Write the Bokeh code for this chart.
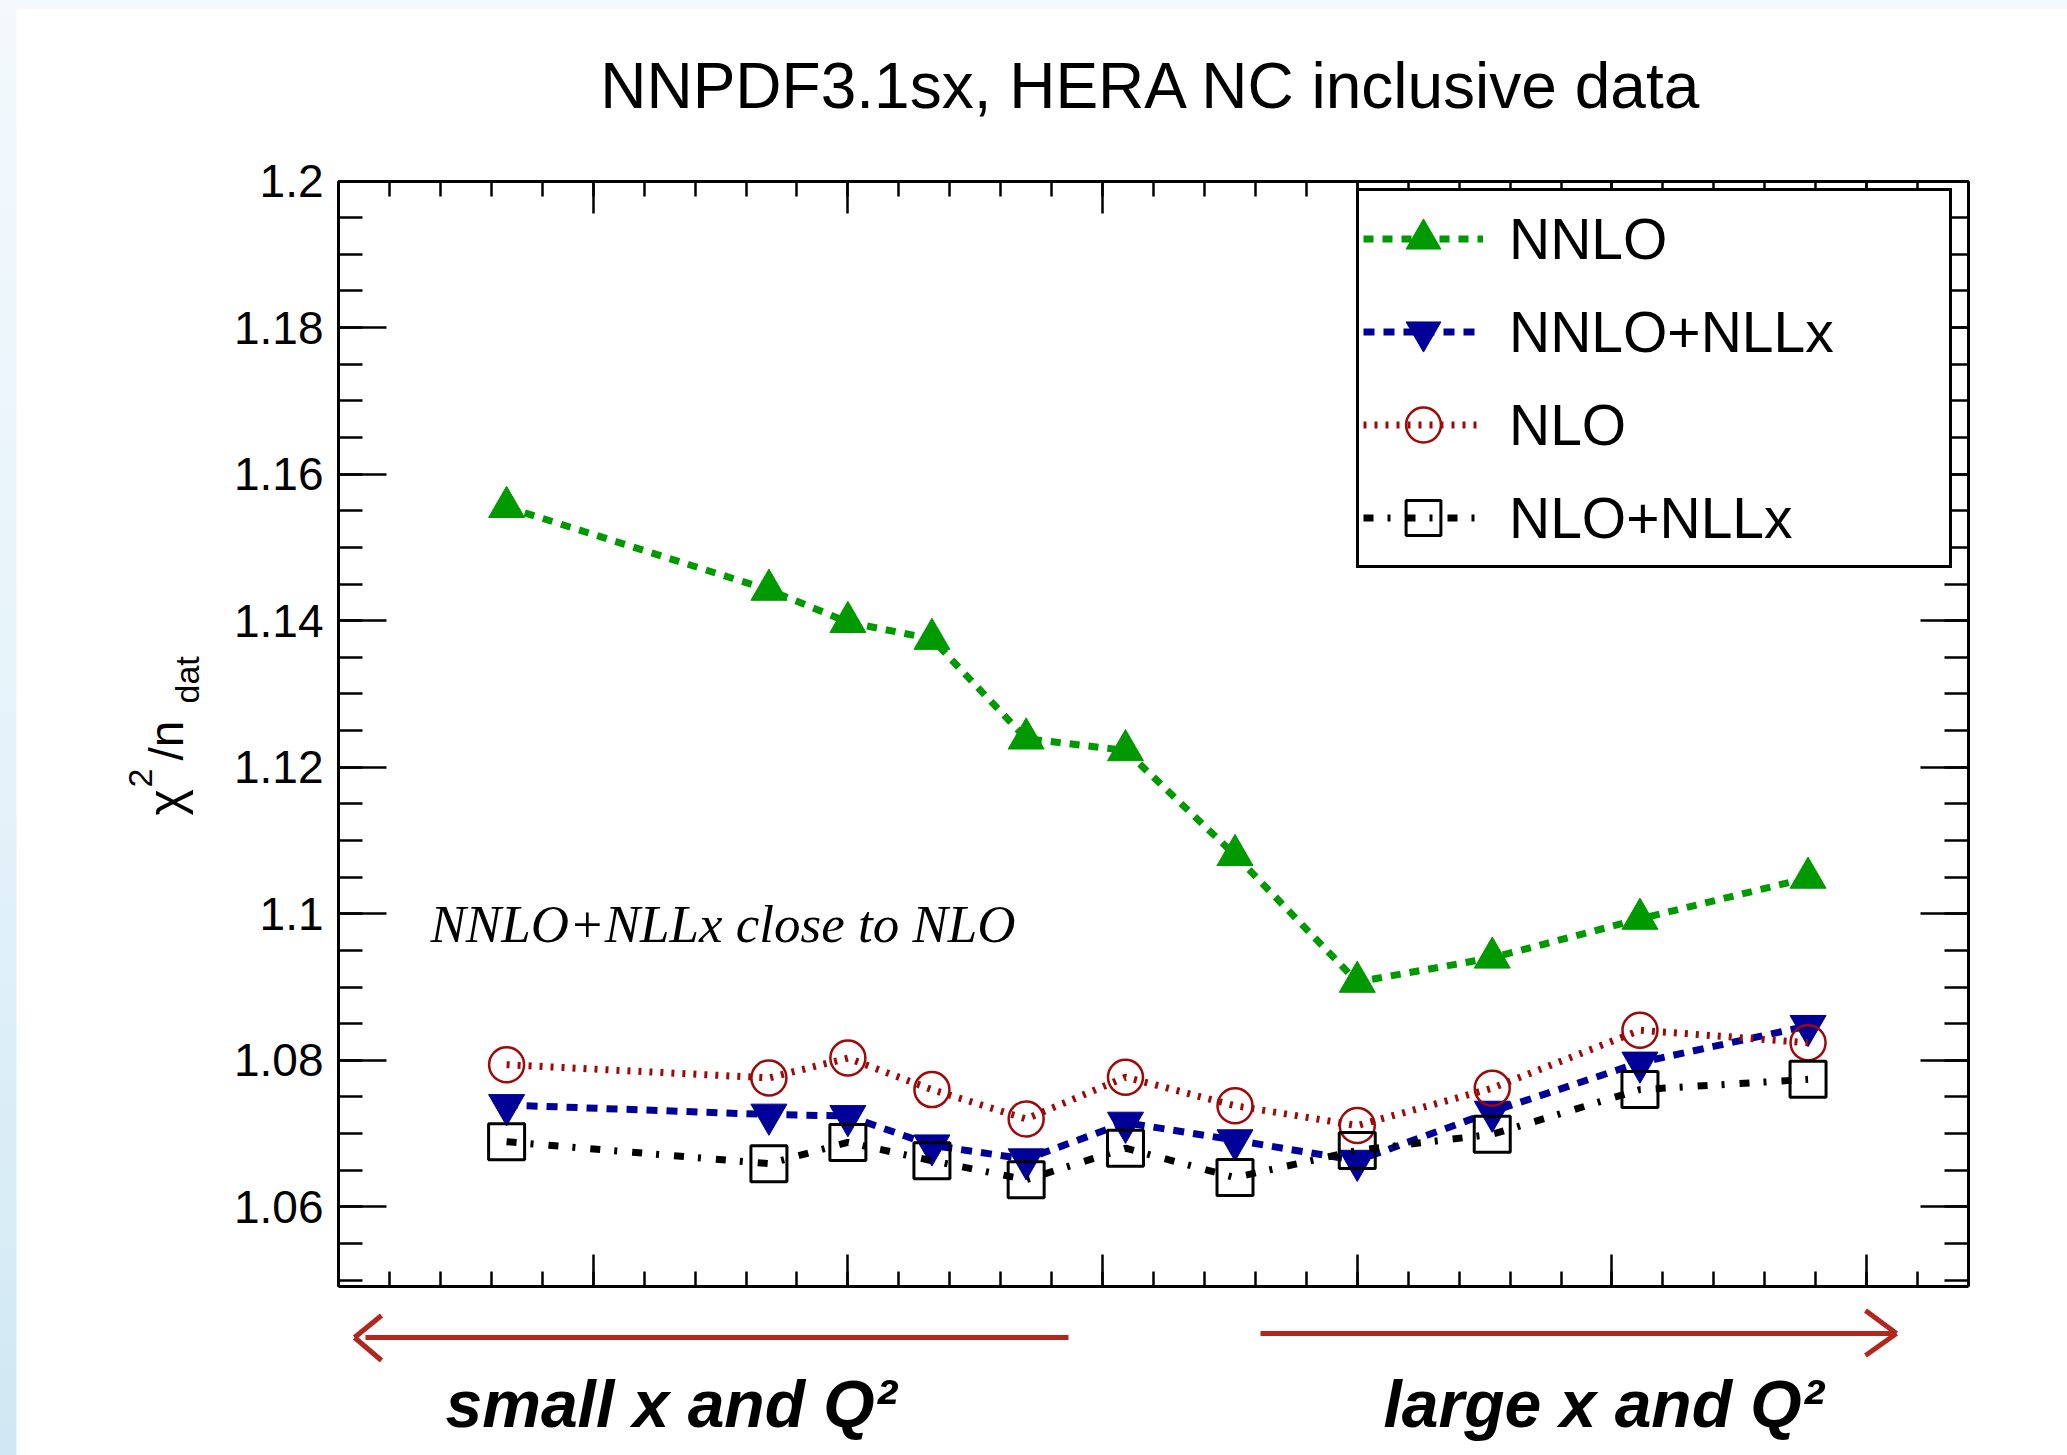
import numpy as np
from bokeh.plotting import figure
from bokeh.models import (FixedTicker, LinearAxis, Range1d, Label, Legend, LegendItem,
                          CustomJSTickFormatter, Arrow, ColumnDataSource)
from bokeh.layouts import column
from bokeh.embed import file_html
from bokeh.resources import INLINE

# ---------------- data ----------------
x_bins = [0.66, 1.69, 2.00, 2.33, 2.70, 3.09, 3.52, 4.00, 4.53, 5.11, 5.77]
nnlo = [1.1555, 1.1442, 1.1398, 1.1375, 1.1239, 1.1223, 1.1080, 1.0907, 1.0940, 1.0993, 1.1049]
nnlo_nllx = [1.0739, 1.0726, 1.0724, 1.0684, 1.0665, 1.0715, 1.0691, 1.0663, 1.0730, 1.0797, 1.0847]
nlo = [1.0794, 1.0776, 1.0803, 1.0760, 1.0720, 1.0777, 1.0738, 1.0711, 1.0762, 1.0841, 1.0824]
nlo_nllx = [1.0689, 1.0659, 1.0688, 1.0663, 1.0637, 1.0680, 1.0640, 1.0677, 1.0699, 1.0760, 1.0774]
series_names = ["NNLO", "NNLO+NLLx", "NLO", "NLO+NLLx"]

# axis box limits and ticks
x_lo, x_hi = 0.0, 6.4
y_lo, y_hi = 1.0492, 1.2
y_major = [1.06, 1.08, 1.1, 1.12, 1.14, 1.16, 1.18, 1.2]
y_minor = [round(1.05 + 0.005 * i, 3) for i in range(31)]
x_major = [0, 1, 2, 3, 4, 5, 6]
x_minor = [round(0.2 * i, 1) for i in range(33)]

title_text = "NNPDF3.1sx, HERA NC inclusive data"
note_text = "NNLO+NLLx close to NLO"
left_text = "small x and Q\u00b2"
right_text = "large x and Q\u00b2"

FONT = "Liberation Sans"

# figure geometry: the canvas is the frame; the axis box sits inside it
W, H = 2051, 1447
BOX_L, BOX_R, BOX_T, BOX_B = 322, 1952, 172.5, 1277.5
sx = (BOX_R - BOX_L) / (x_hi - x_lo)
sy = (BOX_B - BOX_T) / (y_hi - y_lo)
xr = Range1d(x_lo - BOX_L / sx, x_hi + (W - BOX_R) / sx)
yr = Range1d(y_lo - (H - BOX_B) / sy, y_hi + BOX_T / sy)

src = ColumnDataSource(dict(x=x_bins, nnlo=nnlo, nnlo_nllx=nnlo_nllx, nlo=nlo, nlo_nllx=nlo_nllx))

p = figure(width=W, height=H, output_backend="svg", toolbar_location=None,
           x_range=xr, y_range=yr, x_axis_type=None, y_axis_type=None,
           min_border=0)
p.margin = (8, 0, 0, 16)
p.outline_line_color = None
p.background_fill_color = "white"
p.border_fill_color = "white"

yt = FixedTicker(ticks=y_major, minor_ticks=y_minor)
xt = FixedTicker(ticks=x_major, minor_ticks=x_minor)
fmt_y = CustomJSTickFormatter(code="return String(parseFloat(tick.toFixed(3)));")
blank = CustomJSTickFormatter(code="return '';")


def make_axis(ticker, formatter, major_in, minor_in, loc, bounds):
    return LinearAxis(ticker=ticker, formatter=formatter, fixed_location=loc, bounds=bounds,
                      axis_line_width=3, axis_line_color="black",
                      major_tick_in=major_in, major_tick_out=0,
                      minor_tick_in=minor_in, minor_tick_out=0,
                      major_tick_line_width=2.5, minor_tick_line_width=2.5,
                      major_label_text_font=FONT, major_label_text_font_size="46px",
                      major_label_text_color="black", major_label_standoff=15)


p.add_layout(make_axis(yt, fmt_y, 48, 24, x_lo, (y_lo, y_hi)), "left")
p.add_layout(make_axis(yt, blank, 48, 24, x_hi, (y_lo, y_hi)), "right")
p.add_layout(make_axis(xt, blank, 32, 15, y_lo, (x_lo, x_hi)), "below")
p.add_layout(make_axis(xt, blank, 32, 15, y_hi, (x_lo, x_hi)), "above")

GREEN = "#009900"
BLUE = "#000099"
RED = "#9c0a0a"
BLACK = "#000000"

l1 = p.line("x", "nnlo", source=src, line_color=GREEN, line_width=7, line_dash="10 9")
m1 = p.scatter("x", "nnlo", source=src, marker="triangle", size=36,
               fill_color=GREEN, line_color=GREEN, line_width=1)
l2 = p.line("x", "nnlo_nllx", source=src, line_color=BLUE, line_width=7, line_dash="11 9")
m2 = p.scatter("x", "nnlo_nllx", source=src, marker="inverted_triangle", size=36,
               fill_color=BLUE, line_color=BLUE, line_width=1)
l3 = p.line("x", "nlo", source=src, line_color=RED, line_width=7, line_dash="3 8")
m3 = p.scatter("x", "nlo", source=src, marker="circle", size=35,
               fill_color=None, line_color=RED, line_width=2.5)
l4 = p.line("x", "nlo_nllx", source=src, line_color=BLACK, line_width=7, line_dash="10 14 3 15")
m4 = p.scatter("x", "nlo_nllx", source=src, marker="square", size=36,
               fill_color=None, line_color=BLACK, line_width=3)

legend = Legend(items=[LegendItem(label=series_names[0], renderers=[l1, m1]),
                       LegendItem(label=series_names[1], renderers=[l2, m2]),
                       LegendItem(label=series_names[2], renderers=[l3, m3]),
                       LegendItem(label=series_names[3], renderers=[l4, m4])],
                location=(1340, 887), orientation="vertical",
                border_line_color="black", border_line_width=3, border_line_alpha=1.0,
                background_fill_color="white", background_fill_alpha=1.0,
                label_text_font=FONT, label_text_font_size="57px", label_text_color="black",
                glyph_width=120, glyph_height=87, label_height=87, spacing=6,
                padding=4, label_standoff=26, label_width=436, margin=0)
p.add_layout(legend, "center")


def lab(x, y, text, size, style="normal", font=FONT, angle=0.0, align="left"):
    p.add_layout(Label(x=x, y=y, x_units="screen", y_units="screen", text=text, angle=angle,
                       text_align=align, text_baseline="alphabetic", text_font=font,
                       text_font_style=style, text_font_size=size, text_color="black"))


# title
lab(1135, 1370, title_text, "64px", align="center")
# y axis title: chi^2 / n_dat (rotated, built from pieces)
lab(149, 640, "\u03c7", "50px", angle=np.pi / 2)
lab(124, 668, "2", "34px", angle=np.pi / 2)
lab(150, 695, "/n", "48px", angle=np.pi / 2)
lab(170, 752, "dat", "34px", angle=np.pi / 2)
# annotation inside the box
lab(414, 532, note_text, "53px", style="italic", font="Liberation Serif")
# captions below
lab(429, 52, left_text, "66px", style="bold italic")
lab(1367, 52, right_text, "66px", style="bold italic")

# arrows below the box
ARC = "#b3261e"
segs = [(349, 118, 1052, 118), (338, 118, 365, 140), (338, 118, 365, 95),
        (1244, 122, 1878, 122), (1880, 122, 1849, 145), (1880, 122, 1849, 100)]
for xs_, ys_, xe_, ye_ in segs:
    p.add_layout(Arrow(x_start=xs_, y_start=ys_, x_end=xe_, y_end=ye_,
                       start_units="screen", end_units="screen", end=None,
                       line_color=ARC, line_width=5))

page = column(p, styles={"background": "linear-gradient(180deg, #f3f9fd 0%, #e4f2f9 55%, #d0e8f3 100%)"})

open("out.html", "w").write(file_html(page, INLINE))
